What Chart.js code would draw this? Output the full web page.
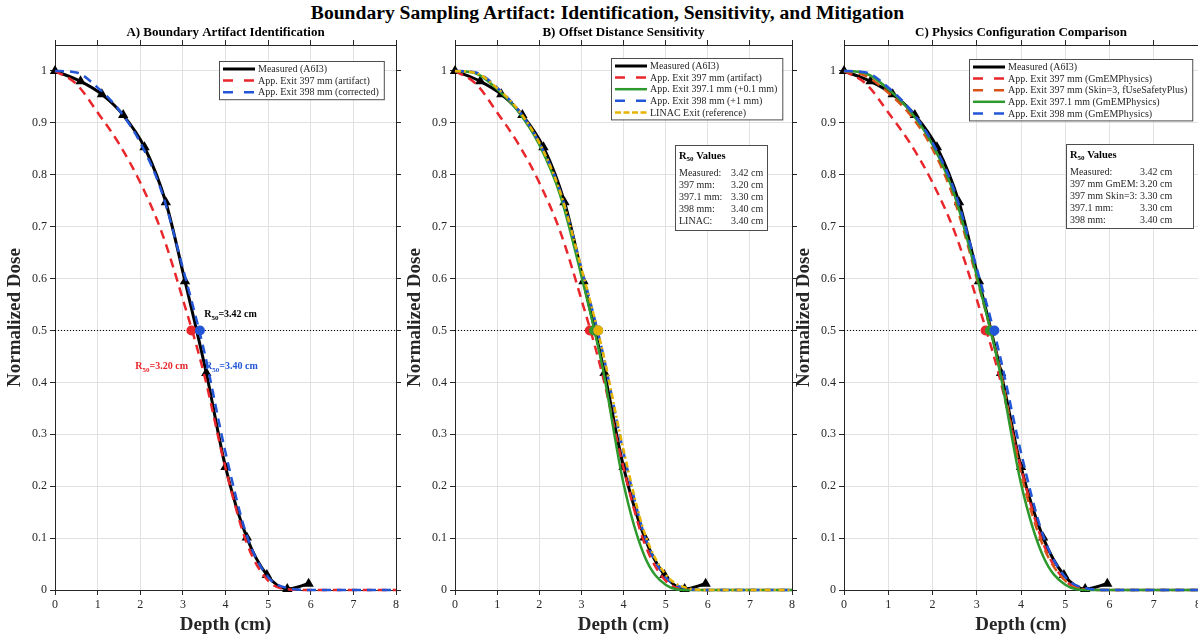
<!DOCTYPE html>
<html>
<head>
<meta charset="utf-8">
<script src="https://cdn.jsdelivr.net/npm/chart.js@4.4.0/dist/chart.umd.min.js"></script>
<style>
  body { margin: 0; width: 1198px; height: 640px; overflow: hidden; background: #fff; position: relative; }
  #title { position: absolute; top: 2px; left: 0; width: 1215px; text-align: center;
           font: bold 19.6px "Liberation Serif", "Times New Roman", serif; color: #000; }
  canvas { position: absolute; top: 0; }
</style>
</head>
<body>
<div id="title">Boundary Sampling Artifact: Identification, Sensitivity, and Mitigation</div>
<canvas id="cA" width="404" height="640" style="left:0"></canvas>
<canvas id="cB" width="400" height="640" style="left:400px"></canvas>
<canvas id="cC" width="417" height="640" style="left:789px"></canvas>
<script>
const SERIF = '"Liberation Serif", "Times New Roman", serif';

// measured depth dose (triangles)
const measDepth = [0, 0.6, 1.1, 1.6, 2.1, 2.6, 3.05, 3.55, 4.0, 4.5, 4.97, 5.45, 5.95];
const measDose = [1.0, 0.98, 0.955, 0.915, 0.853, 0.747, 0.595, 0.418, 0.237, 0.101, 0.029, 0.002, 0.012];

// simulated curves, common depth grid
const simDepth = [0, 0.5, 1, 1.5, 2, 2.5, 3, 3.5, 4, 4.5, 5, 5.5, 6, 7, 8];
const dose397 = [1.0, 0.975, 0.92, 0.86, 0.785, 0.69, 0.56, 0.415, 0.235, 0.09, 0.018, 0.001, 0, 0, 0];
const dose397Skin = [1.0, 0.99, 0.958, 0.915, 0.85, 0.75, 0.6, 0.435, 0.225, 0.085, 0.018, 0.001, 0, 0, 0];
const dose3971 = [1.0, 0.995, 0.965, 0.922, 0.858, 0.76, 0.605, 0.43, 0.205, 0.065, 0.01, 0, 0, 0, 0];
const dose398 = [1.0, 0.997, 0.968, 0.925, 0.862, 0.768, 0.62, 0.46, 0.265, 0.105, 0.025, 0.003, 0, 0, 0];
const doseLinac = [1.0, 0.996, 0.967, 0.925, 0.862, 0.766, 0.62, 0.462, 0.27, 0.11, 0.03, 0.004, 0, 0, 0];

// R50 values (cm)
const r50Meas = 3.42, r50_397 = 3.20, r50_397skin = 3.30, r50_3971 = 3.30, r50_398 = 3.40, r50Linac = 3.40;

// 50% reference line
const refX = [0, 8];
const refY = [0.5, 0.5];

const RED = '#e8262b', BLUE = '#2356d6', GREEN = '#2e9a2e', YELLOW = '#e6b400', ORANGE = '#d95319';

const pts = (xs, ys) => xs.map((x, i) => ({ x: x, y: ys[i] }));

function measured() {
  return { label: 'Measured (A6I3)', legend: true, data: pts(measDepth, measDose),
    borderColor: '#000', backgroundColor: '#000', borderWidth: 3,
    pointStyle: 'triangle', pointRadius: 6, pointBackgroundColor: '#000', pointBorderWidth: 0,
    cubicInterpolationMode: 'monotone' };
}
function sim(label, ys, color, dash) {
  return { label: label, legend: true, data: pts(simDepth, ys), borderColor: color,
    borderWidth: 2.5, borderDash: dash, pointRadius: 0, cubicInterpolationMode: 'monotone',
    legendDash: dash.length === 2 ? [10, 11] : dash };
}
function refLine() {
  return { data: pts(refX, refY), borderColor: '#000', borderWidth: 1, borderDash: [1, 2], pointRadius: 0 };
}
function dots(vals, colors) {
  return { data: vals.map(v => ({ x: v, y: 0.5 })), showLine: false, pointRadius: 5,
    pointBackgroundColor: colors, pointBorderWidth: 0 };
}

function drawSub(ctx, x, y, tail, color, size, weight, align) {
  const big = weight + ' ' + size + 'px ' + SERIF;
  const small = weight + ' ' + Math.round(size * 0.7) + 'px ' + SERIF;
  ctx.font = big;
  const wR = ctx.measureText('R').width, wT = ctx.measureText(tail).width;
  ctx.font = small;
  const wS = ctx.measureText('50').width;
  const sx = align === 'right' ? x - (wR + wS + wT) : x;
  ctx.fillStyle = color; ctx.textAlign = 'left'; ctx.textBaseline = 'middle';
  ctx.font = big; ctx.fillText('R', sx, y);
  ctx.font = small; ctx.fillText('50', sx + wR, y + 3);
  ctx.font = big; ctx.fillText(tail, sx + wR + wS, y);
}

const subTitle = {
  id: 'subTitle',
  afterDraw(chart, args, o) {
    if (!o.text) return;
    const ctx = chart.ctx, a = chart.chartArea;
    ctx.save();
    ctx.font = 'bold 13px ' + SERIF; ctx.fillStyle = '#000';
    ctx.textAlign = 'center'; ctx.textBaseline = 'middle';
    ctx.fillText(o.text, (a.left + a.right) / 2, a.top - 12);
    ctx.restore();
  }
};

const boxLegend = {
  id: 'boxLegend',
  afterDatasetsDraw(chart, args, o) {
    if (o.right === undefined) return;
    const ctx = chart.ctx, a = chart.chartArea;
    const items = chart.data.datasets.filter(d => d.legend);
    ctx.save();
    ctx.font = '10px ' + SERIF;
    const tw = Math.max(...items.map(d => ctx.measureText(d.label).width));
    const w = tw + 44, h = 15 + (items.length - 1) * 11.6;
    const x0 = Math.round(a.right - o.right - w), y0 = Math.round(a.top + o.top);
    ctx.fillStyle = '#fff'; ctx.fillRect(x0, y0, w, h);
    ctx.strokeStyle = '#4d4d4d'; ctx.lineWidth = 1; ctx.strokeRect(x0 + 0.5, y0 + 0.5, w, h);
    items.forEach((d, i) => {
      const yy = y0 + 8 + i * 11.6;
      ctx.beginPath();
      ctx.setLineDash(d.legendDash || []);
      ctx.strokeStyle = d.borderColor; ctx.lineWidth = d.borderWidth;
      ctx.moveTo(x0 + 4, yy); ctx.lineTo(x0 + 36, yy); ctx.stroke();
      ctx.setLineDash([]);
      ctx.fillStyle = '#262626'; ctx.textAlign = 'left'; ctx.textBaseline = 'middle';
      ctx.fillText(d.label, x0 + 39, yy + 0.5);
    });
    ctx.restore();
  }
};

const r50Box = {
  id: 'r50Box',
  afterDatasetsDraw(chart, args, o) {
    if (!o.rows) return;
    const ctx = chart.ctx, a = chart.chartArea;
    const x0 = Math.round(a.left + o.left), y0 = Math.round(a.top + o.top);
    ctx.save();
    ctx.fillStyle = '#fff'; ctx.fillRect(x0, y0, o.width, o.height);
    ctx.strokeStyle = '#4d4d4d'; ctx.lineWidth = 1; ctx.strokeRect(x0 + 0.5, y0 + 0.5, o.width, o.height);
    drawSub(ctx, x0 + 4, y0 + 11, ' Values', '#000', 10.5, 'bold', 'left');
    ctx.font = '10px ' + SERIF; ctx.fillStyle = '#262626';
    o.rows.forEach((r, i) => {
      const yy = y0 + 28 + i * 12;
      ctx.fillText(r[0], x0 + 4, yy);
      ctx.fillText(r[1].toFixed(2) + ' cm', x0 + o.valueX, yy);
    });
    ctx.restore();
  }
};

const r50Notes = {
  id: 'r50Notes',
  afterDatasetsDraw(chart, args, o) {
    if (!o.notes) return;
    const ctx = chart.ctx;
    ctx.save();
    o.notes.forEach(n => {
      const px = chart.scales.x.getPixelForValue(n.x), py = chart.scales.y.getPixelForValue(n.y);
      drawSub(ctx, px, py, '=' + n.value.toFixed(2) + ' cm', n.color, 10, 'bold', n.align);
    });
    ctx.restore();
  }
};

Chart.register(subTitle, boxLegend, r50Box, r50Notes);

function scales() {
  const tickFont = { family: SERIF, size: 12 };
  const titleFont = { family: SERIF, size: 19, weight: 'bold' };
  return {
    x: { type: 'linear', axis: 'x', position: 'bottom', min: 0, max: 8,
      ticks: { stepSize: 1, color: '#262626', font: tickFont, maxRotation: 0, padding: 3 },
      grid: { color: '#e2e2e2', tickColor: '#262626', tickLength: 5 },
      border: { color: '#262626', width: 1 },
      title: { display: true, text: 'Depth (cm)', color: '#262626', font: titleFont, padding: { top: 0, bottom: 4 } },
      afterFit: s => { s.height = 50; } },
    xTop: { type: 'linear', axis: 'x', position: 'top', min: 0, max: 8,
      ticks: { stepSize: 1, display: false },
      grid: { drawOnChartArea: false, tickColor: '#262626', tickLength: 5 },
      border: { color: '#262626', width: 1 },
      afterFit: s => { s.height = 0; } },
    y: { type: 'linear', axis: 'y', position: 'left', min: 0, max: 1.05,
      ticks: { stepSize: 0.1, includeBounds: false, color: '#262626', font: tickFont, padding: 3,
        callback: v => String(Math.round(v * 10) / 10) },
      grid: { color: '#e2e2e2', tickColor: '#262626', tickLength: 5 },
      border: { color: '#262626', width: 1 },
      title: { display: true, text: 'Normalized Dose', color: '#262626', font: titleFont, padding: { top: 4, bottom: 0 } },
      afterFit: s => { s.width = 55; } },
    yRight: { type: 'linear', axis: 'y', position: 'right', min: 0, max: 1.05,
      ticks: { stepSize: 0.1, includeBounds: false, display: false },
      grid: { drawOnChartArea: false, tickColor: '#262626', tickLength: 5 },
      border: { color: '#262626', width: 1 },
      afterFit: s => { s.width = 8; } }
  };
}

function makeChart(id, title, datasets, extra) {
  datasets.forEach((d, i) => { d.order = -i; d.clip = false; });
  new Chart(document.getElementById(id), {
    type: 'line',
    data: { datasets: datasets },
    options: {
      responsive: false, animation: false, events: [],
      layout: { padding: { top: 45, left: 0, right: 0, bottom: 0 } },
      scales: scales(),
      plugins: Object.assign({ legend: { display: false }, tooltip: { enabled: false },
        subTitle: { text: title } }, extra)
    }
  });
}

makeChart('cA', 'A) Boundary Artifact Identification', [
  measured(),
  sim('App. Exit 397 mm (artifact)', dose397, RED, [9, 6]),
  sim('App. Exit 398 mm (corrected)', dose398, BLUE, [9, 6]),
  refLine(),
  dots([r50_397, r50_398], [RED, BLUE])
], {
  boxLegend: { right: 12, top: 16 },
  r50Notes: { notes: [
    { x: 3.5, y: 0.53, value: r50Meas, color: '#000', align: 'left' },
    { x: 3.12, y: 0.43, value: r50_397, color: RED, align: 'right' },
    { x: 3.52, y: 0.43, value: r50_398, color: BLUE, align: 'left' }
  ] }
});

makeChart('cB', 'B) Offset Distance Sensitivity', [
  measured(),
  sim('App. Exit 397 mm (artifact)', dose397, RED, [9, 6]),
  sim('App. Exit 397.1 mm (+0.1 mm)', dose3971, GREEN, []),
  sim('App. Exit 398 mm (+1 mm)', dose398, BLUE, [9, 6]),
  Object.assign(sim('LINAC Exit (reference)', doseLinac, YELLOW, [6, 3, 2, 3]), { legendDash: [6, 2.5] }),
  refLine(),
  dots([r50_397, r50_3971, r50_398, r50Linac], [RED, GREEN, BLUE, YELLOW])
], {
  boxLegend: { right: 10, top: 13 },
  r50Box: { left: 220, top: 100, width: 92, height: 85, valueX: 56,
    rows: [['Measured:', r50Meas], ['397 mm:', r50_397], ['397.1 mm:', r50_3971], ['398 mm:', r50_398], ['LINAC:', r50Linac]] }
});

makeChart('cC', 'C) Physics Configuration Comparison', [
  measured(),
  sim('App. Exit 397 mm (GmEMPhysics)', dose397, RED, [9, 6]),
  sim('App. Exit 397 mm (Skin=3, fUseSafetyPlus)', dose397Skin, ORANGE, [9, 6]),
  sim('App. Exit 397.1 mm (GmEMPhysics)', dose3971, GREEN, []),
  sim('App. Exit 398 mm (GmEMPhysics)', dose398, BLUE, [9, 6]),
  refLine(),
  dots([r50_397, r50_397skin, r50_3971, r50_398], [RED, ORANGE, GREEN, BLUE])
], {
  boxLegend: { right: 6, top: 14 },
  r50Box: { left: 222, top: 99, width: 127, height: 84, valueX: 74,
    rows: [['Measured:', r50Meas], ['397 mm GmEM:', r50_397], ['397 mm Skin=3:', r50_397skin], ['397.1 mm:', r50_3971], ['398 mm:', r50_398]] }
});
</script>
</body>
</html>
